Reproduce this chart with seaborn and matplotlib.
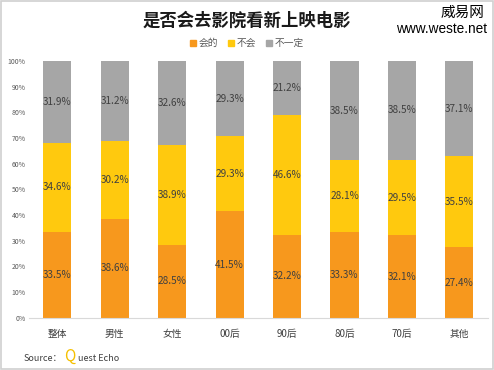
import matplotlib
matplotlib.use("Agg")
import matplotlib.pyplot as plt
import seaborn as sns
import numpy as np
import pandas as pd
from matplotlib.patches import Rectangle
from matplotlib.ticker import PercentFormatter

categories = ["整体", "男性", "女性", "00后", "90后", "80后", "70后", "其他"]
series_names = ["会的", "不会", "不一定"]
will_go = [33.5, 38.6, 28.5, 41.5, 32.2, 33.3, 32.1, 27.4]
will_not = [34.6, 30.2, 38.9, 29.3, 46.6, 28.1, 29.5, 35.5]
not_sure = [31.9, 31.2, 32.6, 29.3, 21.2, 38.5, 38.5, 37.1]
yticks = [0, 10, 20, 30, 40, 50, 60, 70, 80, 90, 100]
colors = ["#F7981D", "#FFC90E", "#A6A6A6"]

sns.set_theme(style="white")
plt.rcParams['font.family'] = ['Noto Sans CJK SC', 'DejaVu Sans']

fig = plt.figure(figsize=(4.94, 3.70), dpi=100)
ax = fig.add_axes([0.058, 0.141, 0.93, 0.694])

vals = np.array([will_go, will_not, not_sure], dtype=float)
norm = vals / vals.sum(axis=0) * 100
cum = np.cumsum(norm, axis=0)

# draw from top layer down so lower layers overlay
for i in range(2, -1, -1):
    df = pd.DataFrame({"cat": categories, "v": cum[i]})
    sns.barplot(data=df, x="cat", y="v", color=colors[i], width=0.49,
                saturation=1, ax=ax, label=series_names[i], linewidth=0,
                edgecolor="none")

for i in range(3):
    bottoms = cum[i] - norm[i]
    for j, c in enumerate(categories):
        ax.text(j, bottoms[j] + norm[i][j] / 2, f"{vals[i][j]:.1f}%",
                ha="center", va="center", fontsize=7.2, color="#404040")

ax.set_ylim(0, 100)
ax.set_xlim(-0.5, len(categories) - 0.5)
ax.set_yticks(yticks)
ax.yaxis.set_major_formatter(PercentFormatter(decimals=0))
ax.tick_params(axis="y", labelsize=5, colors="#595959", length=0, pad=2)
ax.tick_params(axis="x", labelsize=7, colors="#404040", length=0, pad=8)
ax.set_xlabel("")
ax.set_ylabel("")
for s in ["top", "right", "left"]:
    ax.spines[s].set_visible(False)
ax.spines["bottom"].set_color("#D9D9D9")
ax.spines["bottom"].set_linewidth(0.8)
if ax.get_legend():
    ax.get_legend().remove()

handles = [Rectangle((0, 0), 1, 1, color=c) for c in colors]
fig.legend(handles, series_names, loc="center", bbox_to_anchor=(0.5, 0.883),
           ncol=3, frameon=False, fontsize=7, handlelength=0.6, handleheight=0.6,
           handletextpad=0.3, columnspacing=1.0, labelcolor="#595959")

fig.text(0.5, 0.945, "是否会去影院看新上映电影", ha="center", va="center",
         fontsize=12.5, fontweight="bold", color="#1a1a1a")
fig.text(0.981, 0.966, "威易网", ha="right", va="center", fontsize=10.5, color="black")
fig.text(0.985, 0.922, "www.weste.net", ha="right", va="center", fontsize=9.8,
         color="black", family=["Liberation Sans", "DejaVu Sans"])

fig.text(0.047, 0.032, "Source：", ha="left", va="center", fontsize=6.5, color="#404040")
fig.text(0.130, 0.037, "Q", ha="left", va="center", fontsize=11, color="#F5C000")
fig.text(0.157, 0.032, "uest Echo", ha="left", va="center", fontsize=6.5, color="#404040")

fig.patches.append(Rectangle((0.002, 0.002), 0.996, 0.996, transform=fig.transFigure,
                             fill=False, edgecolor="#D0D0D0", linewidth=1.2))

fig.savefig("out.png", dpi=100)
